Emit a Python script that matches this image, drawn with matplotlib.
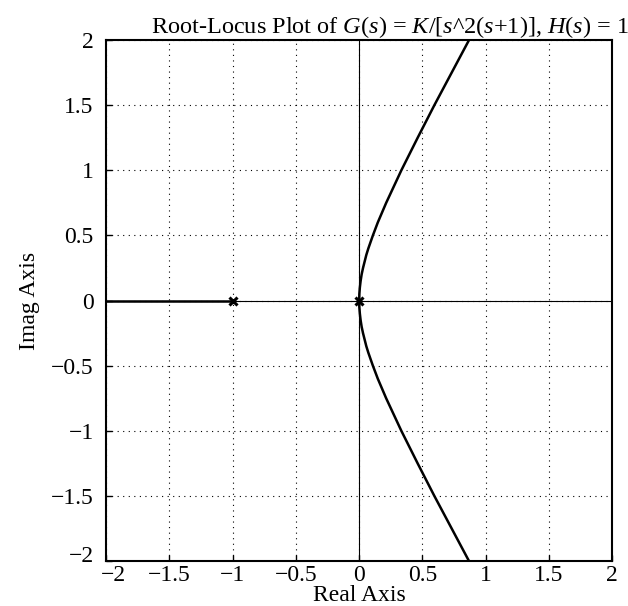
import numpy as np
import matplotlib.pyplot as plt
from matplotlib.transforms import ScaledTranslation

plt.rcParams['font.family'] = ['Liberation Serif', 'DejaVu Serif']
plt.rcParams['mathtext.fontset'] = 'custom'
plt.rcParams['mathtext.rm'] = 'Liberation Serif'
plt.rcParams['mathtext.it'] = 'Liberation Serif:italic'

# open-loop poles (double pole at 0, single at -1)
pole_re = [0.0, -1.0]
pole_im = [0.0, 0.0]

# complex branch leaving the double pole
branch_im = [0.0, 0.05, 0.1, 0.15, 0.2, 0.25, 0.35, 0.4, 0.5, 0.6, 0.75,
             1.0, 1.25, 1.5, 1.75, 2.0, 2.2]
branch_re = [0.0, 0.001, 0.005, 0.011, 0.019, 0.03, 0.056, 0.072, 0.108,
             0.147, 0.213, 0.333, 0.462, 0.594, 0.731, 0.868, 0.98]

# real-axis branch from -1 going left
left_re = [-1.0, -2.5]
left_im = [0.0, 0.0]

ticks = [-2, -1.5, -1, -0.5, 0, 0.5, 1, 1.5, 2]

fig = plt.figure(figsize=(6.28, 6.06), dpi=100)
ax = fig.add_axes([0.169, 0.074, 0.806, 0.860])

ax.axhline(0, color='k', lw=0.8)
ax.axvline(0, color='k', lw=0.8)

up_im = np.array(branch_im)
ax.plot(branch_re, up_im, color='k', lw=1.8)
ax.plot(branch_re, -up_im, color='k', lw=1.8)
ax.plot(left_re, left_im, color='k', lw=1.8)
ax.plot(pole_re, pole_im, 'x', color='k', ms=6, mew=2.2)

ax.set_xlim(-2, 2)
ax.set_ylim(-2, 2)
ax.set_xticks(ticks)
ax.set_yticks(ticks)
ax.set_xticklabels([f"{t:g}".replace('-', '\u2212') for t in ticks])
ax.set_yticklabels([f"{t:g}".replace('-', '\u2212') for t in ticks])
ax.grid(True, color='k', linestyle=(0, (1, 4)), lw=0.8)
ax.tick_params(direction='in', length=4, labelsize=17, width=1)
ax.tick_params(axis='x', pad=3)
ax.tick_params(axis='y', pad=9)
for sp in ax.spines.values():
    sp.set_linewidth(1.5)

# nudge the corner labels apart like the original
ax.get_yticklabels()[0].set_transform(
    ax.get_yticklabels()[0].get_transform() + ScaledTranslation(0, 5 / 72, fig.dpi_scale_trans))
ax.get_xticklabels()[0].set_transform(
    ax.get_xticklabels()[0].get_transform() + ScaledTranslation(5 / 72, 0, fig.dpi_scale_trans))

ax.set_xlabel('Real Axis', fontsize=17, labelpad=-1)
ax.set_ylabel('Imag Axis', fontsize=17, labelpad=8)
ax.set_title(r'Root-Locus Plot of $G(s)$ = $K$/[$s$^2($s$+1)], $H(s)$ = 1',
             fontsize=17.5, pad=2, x=0.56)

fig.savefig('out.png', dpi=100)
